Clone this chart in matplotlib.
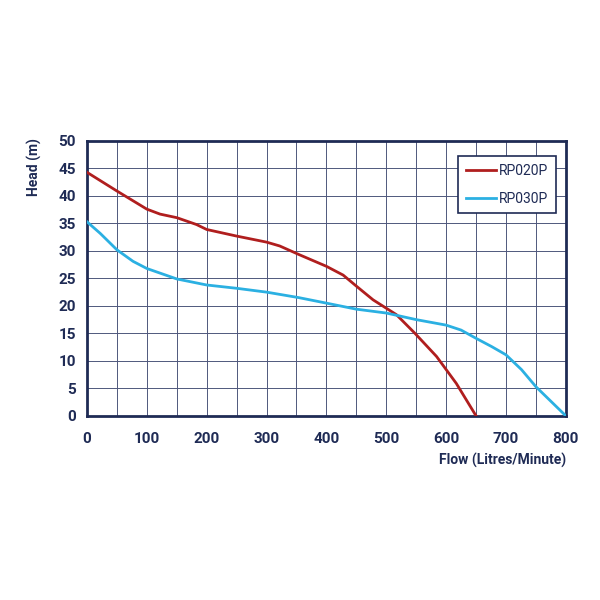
import matplotlib
matplotlib.use("Agg")
import matplotlib.pyplot as plt

# flow (L/min) and head (m)
flow_rp020p = [0, 50, 100, 122, 150, 183, 200, 250, 300, 322, 355, 400, 428, 450, 478, 517, 548, 584, 617, 650]
head_rp020p = [44.3, 40.9, 37.6, 36.7, 36.05, 34.8, 33.9, 32.7, 31.6, 30.9, 29.3, 27.2, 25.6, 23.6, 21.1, 18.4, 15.0, 10.8, 5.9, 0]

flow_rp030p = [0, 22, 50, 77, 100, 150, 200, 250, 300, 354, 400, 450, 500, 550, 600, 625, 650, 676, 700, 726, 750, 800]
head_rp030p = [35.3, 33.2, 30.2, 28.1, 26.8, 24.9, 23.8, 23.2, 22.5, 21.5, 20.5, 19.4, 18.7, 17.5, 16.5, 15.6, 14.1, 12.6, 11.1, 8.4, 5.3, 0]

navy = "#1f2b55"
red = "#b01e1e"
blue = "#2bb0e2"

plt.rcParams['font.family'] = ['Roboto', 'DejaVu Sans']

fig = plt.figure(figsize=(6, 6), dpi=100)
ax = fig.add_axes([0.145, 0.307, 0.798, 0.458])

ax.plot(flow_rp020p, head_rp020p, color=red, lw=2.0, label="RP020P", zorder=3)
ax.plot(flow_rp030p, head_rp030p, color=blue, lw=2.0, label="RP030P", zorder=3)

ax.set_xlim(0, 800)
ax.set_ylim(0, 50)
ax.set_xticks(range(0, 801, 100))
ax.set_xticks(range(0, 801, 50), minor=True)
ax.set_yticks(range(0, 51, 5))
ax.grid(True, which="both", color="#4f587c", lw=0.7)
ax.tick_params(which="both", length=0)
ax.tick_params(axis="x", pad=12)
ax.tick_params(axis="y", pad=8)
for lab in ax.get_xticklabels() + ax.get_yticklabels():
    lab.set_fontsize(11)
    lab.set_fontweight("bold")
    lab.set_color(navy)
for s in ax.spines.values():
    s.set_color(navy)
    s.set_linewidth(2)

fig.text(0.058, 0.77, "Head (m)", rotation=90, ha="center", va="top",
         fontsize=10, fontweight="bold", color=navy)
fig.text(0.943, 0.232, "Flow (Litres/Minute)", ha="right", va="center",
         fontsize=10, fontweight="bold", color=navy)

leg = ax.legend(loc="upper right", bbox_to_anchor=(0.979, 0.945), borderaxespad=0,
                fontsize=10, fancybox=False, framealpha=1, edgecolor=navy,
                handlelength=2.2, handletextpad=0.2, labelspacing=1.0, borderpad=0.55)
leg.get_frame().set_linewidth(1.2)
for t in leg.get_texts():
    t.set_color(navy)

fig.savefig("out.png", dpi=100, facecolor="white")
